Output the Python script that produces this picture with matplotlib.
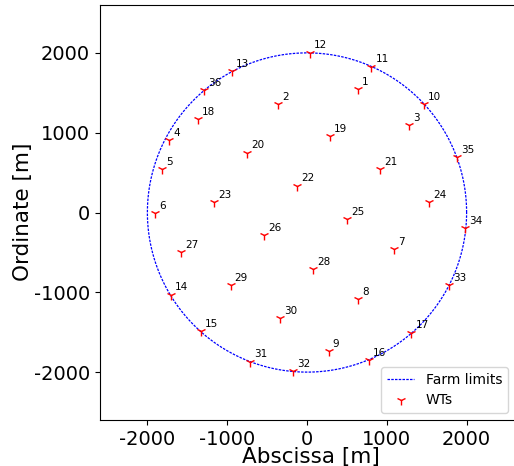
import numpy as np
import matplotlib
matplotlib.use("Agg")
import matplotlib.pyplot as plt

plt.rcParams['axes.unicode_minus'] = False

# Turbine ids and coordinates [m]
wt_ids = list(range(1, 37))
wt_x = [637, -362, 1275, -1725, -1812, -1904, 1092, 637, 271, 1462,
        808, 37, -941, -1708, -1333, 775, 1308, -1371, 287, -750,
        912, -129, -1166, 1533, 496, -542, -1579, 79, -958, -333,
        -712, -175, 1779, 1983, 1875, -1287]
wt_y = [1546, 1358, 1092, 912, 546, -4, -454, -1087, -1733, 1362,
        1829, 2004, 1767, -1029, -1483, -1846, -1504, 1171, 962, 750,
        546, 337, 129, 129, -79, -287, -496, -704, -912, -1325,
        -1867, -1987, -912, -200, 696, 1538]

farm_radius = 2000
x_ticks = [-2000, -1000, 0, 1000, 2000]
y_ticks = [-2000, -1000, 0, 1000, 2000]

fig = plt.figure(figsize=(5.14, 4.66), dpi=100)
ax = fig.add_axes([99/514, 46/466, 416/514, 415/466])

theta = np.linspace(0, 2*np.pi, 400)
ax.plot(farm_radius*np.cos(theta), farm_radius*np.sin(theta), ls='--',
        color='blue', lw=0.9, dashes=(2, 1), label='Farm limits')
ax.plot(wt_x, wt_y, ls='none', marker='1', color='red', markersize=6.5,
        label='WTs')
for i, x, y in zip(wt_ids, wt_x, wt_y):
    ax.annotate(str(i), (x, y), xytext=(3, 3), textcoords='offset points',
                fontsize=7.5)

ax.set_xlim(-2600, 2600)
ax.set_ylim(-2600, 2600)
ax.set_aspect('equal', adjustable='box')
ax.set_xticks(x_ticks)
ax.set_yticks(y_ticks)
ax.tick_params(labelsize=14)
ax.set_xlabel('Abscissa [m]', fontsize=15.5)
ax.set_ylabel('Ordinate [m]', fontsize=15.5)
ax.xaxis.set_label_coords(0.5096, -0.0645)
ax.yaxis.set_label_coords(-0.161, 0.502)
ax.legend(loc='lower right', fontsize=10)

fig.savefig('out.png', dpi=100)
